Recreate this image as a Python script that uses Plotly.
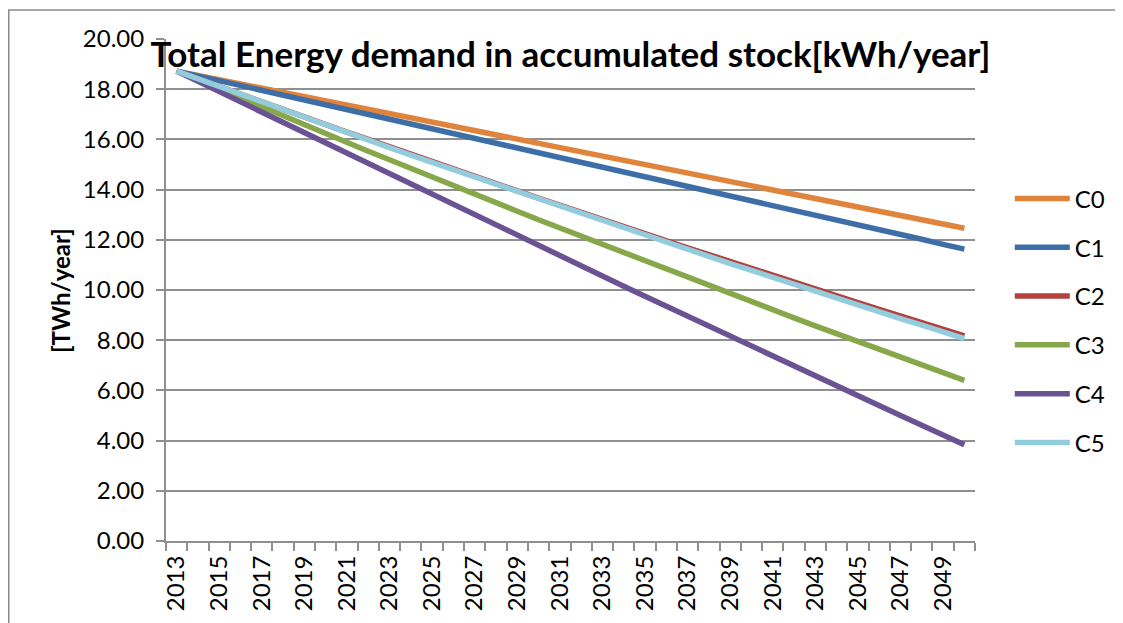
import plotly.graph_objects as go

years = list(range(2013, 2051))

c0 = [18.72, 18.55, 18.38, 18.21, 18.04, 17.87, 17.70, 17.54, 17.37, 17.20,
      17.03, 16.86, 16.69, 16.52, 16.35, 16.18, 16.01, 15.84, 15.67, 15.50,
      15.34, 15.17, 15.00, 14.83, 14.66, 14.49, 14.32, 14.15, 13.98, 13.81,
      13.64, 13.47, 13.31, 13.14, 12.97, 12.80, 12.63, 12.46]
c1 = [18.72, 18.53, 18.34, 18.15, 17.95, 17.76, 17.57, 17.38, 17.19, 17.00,
      16.80, 16.61, 16.42, 16.23, 16.04, 15.85, 15.66, 15.46, 15.27, 15.08,
      14.89, 14.70, 14.51, 14.31, 14.12, 13.93, 13.74, 13.55, 13.36, 13.17,
      12.97, 12.78, 12.59, 12.40, 12.21, 12.02, 11.82, 11.63]
c2 = [18.72, 18.41, 18.11, 17.80, 17.50, 17.20, 16.90, 16.59, 16.29, 16.00,
      15.70, 15.40, 15.12, 14.82, 14.53, 14.24, 13.95, 13.66, 13.37, 13.09,
      12.81, 12.52, 12.25, 11.96, 11.68, 11.41, 11.13, 10.86, 10.58, 10.31,
      10.04, 9.77, 9.50, 9.23, 8.96, 8.71, 8.44, 8.17]
c3 = [18.72, 18.36, 18.00, 17.64, 17.29, 16.94, 16.58, 16.23, 15.88, 15.53,
      15.19, 14.84, 14.50, 14.16, 13.82, 13.48, 13.14, 12.80, 12.47, 12.14,
      11.81, 11.48, 11.15, 10.82, 10.49, 10.17, 9.85, 9.53, 9.21, 8.89,
      8.57, 8.26, 7.94, 7.63, 7.32, 7.01, 6.71, 6.40]
c4 = [18.72, 18.31, 17.89, 17.48, 17.06, 16.65, 16.24, 15.83, 15.42, 15.01,
      14.60, 14.19, 13.79, 13.38, 12.97, 12.57, 12.16, 11.76, 11.36, 10.95,
      10.55, 10.15, 9.75, 9.35, 8.95, 8.56, 8.16, 7.76, 7.36, 6.97,
      6.57, 6.18, 5.79, 5.39, 5.00, 4.61, 4.22, 3.83]
c5 = [18.72, 18.41, 18.10, 17.79, 17.49, 17.18, 16.88, 16.57, 16.27, 15.97,
      15.67, 15.37, 15.08, 14.78, 14.49, 14.19, 13.90, 13.61, 13.32, 13.03,
      12.75, 12.46, 12.18, 11.89, 11.61, 11.33, 11.05, 10.78, 10.50, 10.22,
      9.95, 9.68, 9.40, 9.13, 8.86, 8.60, 8.33, 8.06]

names = ["C0", "C1", "C2", "C3", "C4", "C5"]
series = [c0, c1, c2, c3, c4, c5]
colors = ["#E0843C", "#3E6EA8", "#B3413E", "#87A84A", "#6B5393", "#93CDDD"]

label_years = years[::2]  # 2013, 2015, ... 2049

# page body has an 8px margin, so the figure is 8px smaller than the window
W, H = 1115, 615
L, T = 158, 31
PW, PH = 809, 504

fig = go.Figure()
for name, vals, col in zip(names, series, colors):
    fig.add_trace(go.Scatter(
        x=years, y=vals, name=name, mode="lines", legendgroup=name,
        line=dict(color=col, width=5.5),
    ))

fig.update_layout(
    width=W, height=H,
    margin=dict(l=L, r=W - L - PW, t=T, b=H - T - PH),
    plot_bgcolor="white", paper_bgcolor="white",
    font=dict(family="Lato", size=24, color="black"),
    title=dict(
        text="<b>Total Energy demand in accumulated stock[kWh/year]</b>",
        x=0.5, xref="paper", xanchor="center",
        y=1 - 47 / H, yanchor="middle",
        font=dict(family="Lato", size=35, color="black"),
    ),
    legend=dict(
        x=1.043, xanchor="left", y=0.4385, yanchor="middle",
        tracegroupgap=14.6, itemwidth=55, font=dict(size=24),
        bgcolor="rgba(0,0,0,0)",
    ),
    showlegend=True,
)

fig.update_yaxes(
    range=[0, 20], dtick=2, tickformat=".2f",
    showgrid=True, gridcolor="#8f8f8f", gridwidth=1.5,
    showline=True, linecolor="#8f8f8f", linewidth=2,
    ticks="outside", ticklen=8, tickcolor="#8f8f8f", tickwidth=1.5,
    ticklabelstandoff=7, zeroline=False,
)
fig.update_xaxes(
    range=[2012.5, 2050.5],
    tickmode="array", tickvals=label_years, ticktext=[str(y) for y in label_years],
    tickangle=-90, ticks="", showgrid=False, zeroline=False,
    showline=True, linecolor="#8f8f8f", linewidth=2, ticklabelstandoff=3,
    minor=dict(tick0=2012.5, dtick=1, ticks="outside", ticklen=8,
               tickcolor="#8f8f8f", tickwidth=1.5, showgrid=False),
)

fig.add_annotation(
    text="<b>[TWh/year]</b>", textangle=-90,
    x=(52 - L) / PW, y=0.5, xref="paper", yref="paper",
    xanchor="center", yanchor="middle",
    showarrow=False, font=dict(size=24),
)

# outer chart border
fig.add_shape(
    type="rect", xref="paper", yref="paper",
    x0=(0.75 - L) / PW, x1=1.5, y0=-0.5, y1=(T + PH - 2) / PH,
    line=dict(color="#8a8a8a", width=1.5), layer="below",
)

fig.write_html("out.html")
